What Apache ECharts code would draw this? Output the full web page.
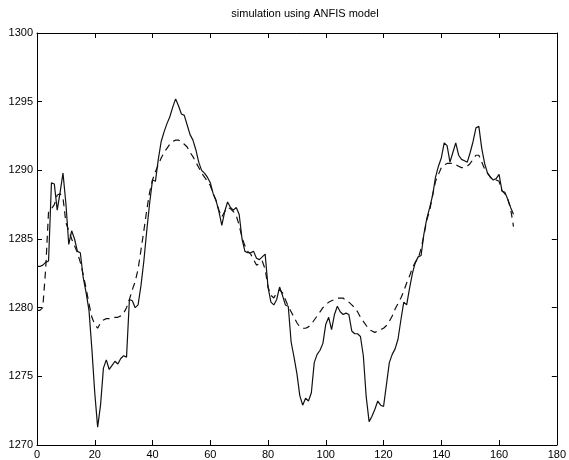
<!DOCTYPE html>
<html>
<head>
<meta charset="utf-8">
<script src="https://cdn.jsdelivr.net/npm/echarts@6/dist/echarts.min.js"></script>
<style>
  html, body { margin: 0; padding: 0; background: #fff; }
  #main { width: 569px; height: 460px; }
</style>
</head>
<body>
<div id="main"></div>
<script>
// measured output (solid line), one value per sample, samples 0..165
var measured = [
  1283.0, 1283.0, 1283.1, 1283.3, 1283.4, 1289.1, 1289.0, 1287.1, 1288.4, 1289.8,
  1287.6, 1284.6, 1285.6, 1285.0, 1284.1, 1284.0, 1282.2, 1281.1, 1279.8, 1277.0,
  1273.8, 1271.3, 1272.9, 1275.6, 1276.2, 1275.5, 1275.8, 1276.1, 1275.9, 1276.3,
  1276.5, 1276.4, 1280.6, 1280.5, 1280.0, 1280.2, 1281.6, 1283.4, 1285.6, 1287.6,
  1289.3, 1289.2, 1290.8, 1292.1, 1292.8, 1293.4, 1293.9, 1294.6, 1295.2, 1294.7,
  1294.1, 1294.0, 1293.3, 1292.6, 1292.2, 1291.5, 1290.6, 1290.0, 1289.8, 1289.5,
  1289.1, 1288.3, 1287.8, 1287.0, 1286.0, 1287.0, 1287.7, 1287.3, 1287.1, 1287.3,
  1286.8, 1285.0, 1284.1, 1284.0, 1284.0, 1284.1, 1283.6, 1283.5, 1283.7, 1283.9,
  1281.5, 1280.4, 1280.2, 1280.6, 1281.5, 1280.9, 1280.2, 1280.1, 1277.5, 1276.4,
  1275.2, 1273.6, 1272.9, 1273.4, 1273.2, 1273.8, 1276.0, 1276.6, 1276.9, 1277.4,
  1278.8, 1279.3, 1278.4, 1279.5, 1280.1, 1279.7, 1279.5, 1279.6, 1279.5, 1278.3,
  1278.1, 1278.1, 1277.9, 1276.5, 1273.5, 1271.7, 1272.1, 1272.6, 1273.2, 1272.9,
  1272.8, 1274.4, 1276.0, 1276.6, 1277.0, 1277.7, 1279.1, 1280.4, 1280.2, 1281.4,
  1282.5, 1283.3, 1283.7, 1283.8, 1285.4, 1286.5, 1287.3, 1288.2, 1289.5, 1290.3,
  1290.9, 1292.0, 1291.8, 1290.6, 1291.3, 1292.0, 1291.1, 1290.8, 1290.7, 1290.6,
  1291.3, 1292.1, 1293.1, 1293.2, 1291.6, 1290.5, 1289.8, 1289.5, 1289.3, 1289.4,
  1289.7, 1288.5, 1288.4, 1287.9, 1287.3, 1286.8
];

// ANFIS simulation (dashed line), samples 0..165
var anfis = [
  1279.8, 1279.8, 1280.0, 1282.8, 1287.0, 1287.2, 1287.5, 1288.2, 1288.3, 1288.0,
  1286.2, 1285.6, 1285.0, 1284.5, 1284.0, 1283.3, 1282.4, 1281.4, 1280.3, 1279.3,
  1278.8, 1278.5, 1278.9, 1279.1, 1279.2, 1279.2, 1279.2, 1279.3, 1279.3, 1279.4,
  1279.6, 1280.0, 1280.6, 1281.3, 1281.9, 1282.8, 1284.2, 1285.6, 1287.1, 1288.4,
  1289.3, 1289.9, 1290.4, 1290.9, 1291.3, 1291.6, 1291.9, 1292.1, 1292.2, 1292.2,
  1292.1, 1291.9, 1291.7, 1291.3, 1291.0, 1290.6, 1290.2, 1289.8, 1289.5, 1289.2,
  1288.9, 1288.3, 1287.8, 1287.1, 1286.6, 1287.0, 1287.3, 1287.2, 1287.0, 1286.7,
  1286.0, 1285.1, 1284.5, 1284.1, 1283.9, 1283.5, 1283.1, 1283.2, 1283.4, 1282.8,
  1281.5, 1280.9, 1280.7, 1281.1, 1281.3, 1281.1, 1280.6, 1280.1, 1279.7, 1279.3,
  1278.9, 1278.6, 1278.5, 1278.5, 1278.6, 1278.8, 1279.1, 1279.4, 1279.7, 1280.0,
  1280.2, 1280.4, 1280.5, 1280.6, 1280.7, 1280.7, 1280.7, 1280.5, 1280.4, 1280.2,
  1280.0, 1279.7, 1279.3, 1279.0, 1278.7, 1278.4, 1278.3, 1278.2, 1278.3, 1278.4,
  1278.5, 1278.7, 1279.0, 1279.4, 1279.9, 1280.3, 1280.7, 1281.2, 1281.8, 1282.3,
  1282.9, 1283.3, 1283.6, 1284.3, 1285.3, 1286.4, 1287.1, 1288.2, 1289.2, 1289.7,
  1290.2, 1290.4, 1290.5, 1290.5, 1290.5, 1290.4, 1290.3, 1290.2, 1290.2, 1290.3,
  1290.5, 1290.8, 1291.1, 1291.1, 1290.6, 1290.1, 1289.8, 1289.5, 1289.3, 1289.3,
  1289.2, 1288.5, 1288.3, 1287.9, 1287.2, 1285.9
];

var xTicks = [0, 20, 40, 60, 80, 100, 120, 140, 160, 180];
var yTicks = [1270, 1275, 1280, 1285, 1290, 1295, 1300];

var chart = echarts.init(document.getElementById('main'));

function pairs(arr) {
  return arr.map(function (v, i) { return [i, v]; });
}

var font = 'Liberation Sans, Arial, sans-serif';
var axisBase = {
  type: 'value',
  axisLine: { show: true, onZero: false, lineStyle: { color: '#000', width: 1 } },
  axisTick: { show: true, inside: true, length: 5, lineStyle: { color: '#000' } },
  splitLine: { show: false }
};

var option = {
  animation: false,
  backgroundColor: '#fff',
  title: {
    text: 'simulation using ANFIS model',
    left: 300, top: 3, textAlign: 'center',
    textStyle: { fontFamily: font, fontSize: 11, fontWeight: 'normal', color: '#000' }
  },
  grid: { left: 37, right: 7, top: 33, bottom: 15 },
  xAxis: [
    Object.assign({}, axisBase, {
      position: 'bottom',
      min: xTicks[0], max: xTicks[xTicks.length - 1], interval: 20,
      axisLabel: { color: '#000', fontFamily: font, fontSize: 11, margin: 4,
        formatter: function (v) { return String(v); } }
    }),
    Object.assign({}, axisBase, {
      position: 'top',
      min: xTicks[0], max: xTicks[xTicks.length - 1], interval: 20,
      axisLabel: { show: false }
    })
  ],
  yAxis: [
    Object.assign({}, axisBase, {
      position: 'left',
      min: yTicks[0], max: yTicks[yTicks.length - 1], interval: 5,
      axisLabel: { color: '#000', fontFamily: font, fontSize: 11, margin: 4,
        formatter: function (v) { return String(v); } }
    }),
    Object.assign({}, axisBase, {
      position: 'right',
      min: yTicks[0], max: yTicks[yTicks.length - 1], interval: 5,
      axisLabel: { show: false }
    })
  ],
  series: [
    {
      name: 'measured',
      type: 'line',
      data: pairs(measured),
      showSymbol: false,
      lineStyle: { color: '#111', width: 1.2 }
    },
    {
      name: 'ANFIS',
      type: 'line',
      data: pairs(anfis),
      showSymbol: false,
      lineStyle: { color: '#111', width: 1.2, type: [7, 5] }
    }
  ]
};

chart.setOption(option);
</script>
</body>
</html>
